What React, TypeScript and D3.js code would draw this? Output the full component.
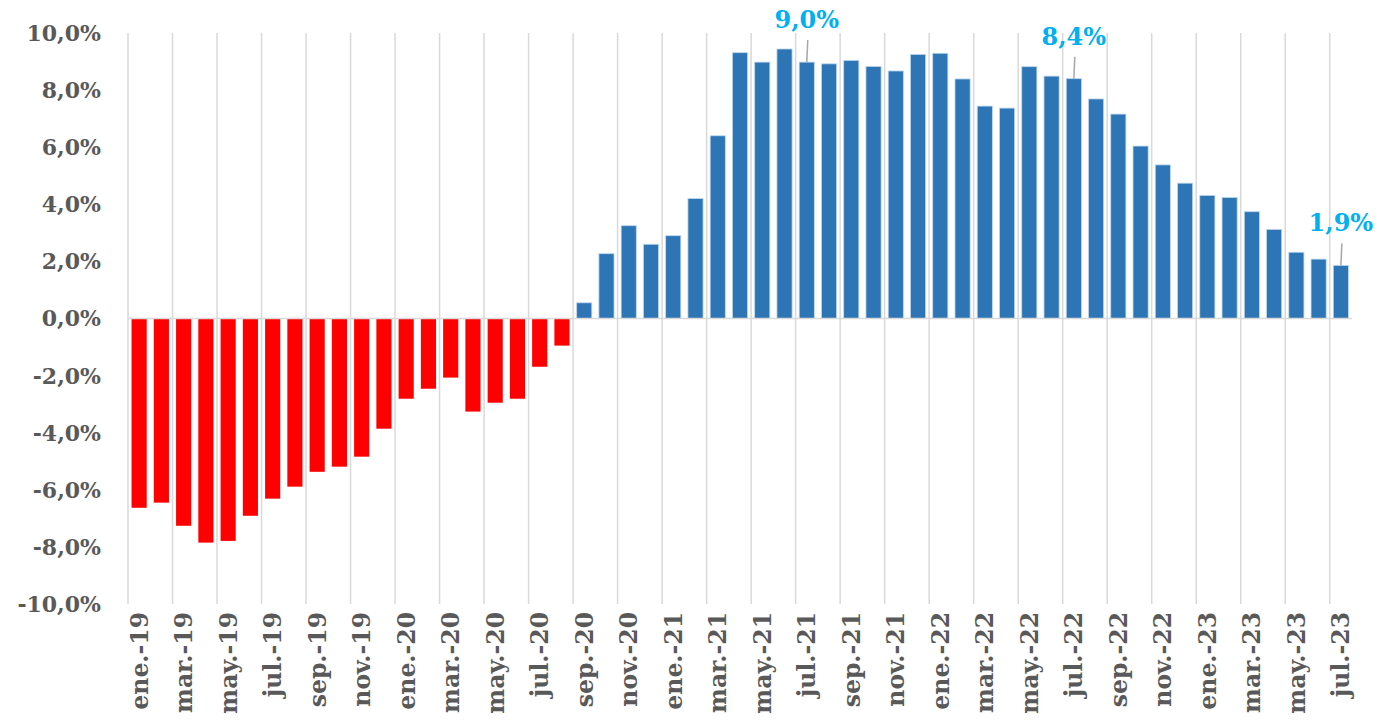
import React, { useEffect, useRef } from 'react';
import * as d3 from 'd3';

// monthly series, ene-19 .. jul-23
const months = ['ene.', 'feb.', 'mar.', 'abr.', 'may.', 'jun.', 'jul.', 'ago.', 'sep.', 'oct.', 'nov.', 'dic.'];
const years = ['19', '20', '21', '22', '23'];
const categories: string[] = [];
years.forEach((yy) => months.forEach((m) => categories.push(`${m}-${yy}`)));
categories.splice(55);

const values2019 = [-6.63, -6.45, -7.26, -7.85, -7.79, -6.91, -6.31, -5.89, -5.37, -5.19, -4.84, -3.86];
const values2020 = [-2.81, -2.46, -2.07, -3.26, -2.95, -2.81, -1.69, -0.95, 0.55, 2.27, 3.25, 2.6];
const values2021 = [2.9, 4.2, 6.4, 9.31, 8.98, 9.44, 8.98, 8.92, 9.04, 8.83, 8.67, 9.25];
const values2022 = [9.29, 8.39, 7.44, 7.37, 8.82, 8.49, 8.4, 7.69, 7.16, 6.04, 5.38, 4.74];
const values2023 = [4.31, 4.24, 3.74, 3.12, 2.32, 2.08, 1.86];
const values = [...values2019, ...values2020, ...values2021, ...values2022, ...values2023];

// highlighted data labels
const labelIdx = [30, 42, 54];
const labelText = ['9,0%', '8,4%', '1,9%'];

const yTicks = [-10, -8, -6, -4, -2, 0, 2, 4, 6, 8, 10];

export default function App() {
  const ref = useRef<SVGSVGElement>(null);

  useEffect(() => {
    const width = 1378;
    const height = 727;
    const left = 128;
    const right = 1352;
    const top = 33;
    const bottom = 604;
    const font = '"DejaVu Serif", serif';
    const grey = '#595959';

    const x = d3.scaleBand<number>().domain(d3.range(categories.length)).range([left, right]).paddingInner(0.32).paddingOuter(0.16);
    const y = d3.scaleLinear().domain([-10, 10]).range([bottom, top]);
    const step = x.step();

    const svg = d3.select(ref.current).attr('viewBox', [0, 0, width, height]).attr('width', width).attr('height', height);
    svg.selectAll('*').remove();

    // vertical gridlines every two months
    svg
      .append('g')
      .selectAll('line')
      .data(d3.range(0, categories.length, 2))
      .join('line')
      .attr('x1', (i) => left + i * step)
      .attr('x2', (i) => left + i * step)
      .attr('y1', top)
      .attr('y2', bottom)
      .attr('stroke', '#D9D9D9')
      .attr('stroke-width', 1.5);

    // y tick labels
    svg
      .append('g')
      .selectAll('text')
      .data(yTicks)
      .join('text')
      .attr('x', 101)
      .attr('y', (d) => y(d))
      .attr('dy', '0.36em')
      .attr('text-anchor', 'end')
      .attr('font-family', font)
      .attr('font-weight', 'bold')
      .attr('font-size', 22)
      .attr('fill', grey)
      .text((d) => d.toFixed(1).replace('.', ',') + '%');

    // bars
    svg
      .append('g')
      .selectAll('rect')
      .data(values)
      .join('rect')
      .attr('x', (d, i) => x(i)!)
      .attr('width', x.bandwidth())
      .attr('y', (d) => y(Math.max(0, d)))
      .attr('height', (d) => Math.abs(y(d) - y(0)))
      .attr('fill', (d) => (d < 0 ? '#FF0000' : '#2E75B6'))
      .attr('stroke', (d) => (d < 0 ? 'none' : '#BDD7EE'))
      .attr('stroke-width', 0.8);

    // zero axis line
    svg
      .append('line')
      .attr('x1', left)
      .attr('x2', right)
      .attr('y1', y(0))
      .attr('y2', y(0))
      .attr('stroke', '#D9D9D9')
      .attr('stroke-width', 1.5);

    // x labels, rotated
    svg
      .append('g')
      .selectAll('text')
      .data(d3.range(0, categories.length, 2))
      .join('text')
      .attr('transform', (i) => `translate(${x(i)! + x.bandwidth() / 2},612) rotate(-90)`)
      .attr('dy', '0.36em')
      .attr('text-anchor', 'end')
      .attr('font-family', font)
      .attr('font-weight', 'bold')
      .attr('font-size', 23.5)
      .attr('fill', grey)
      .text((i) => categories[i]);

    // data labels with leader lines
    const lab = svg.append('g');
    labelIdx.forEach((i, k) => {
      const cx = x(i)! + x.bandwidth() / 2;
      const ty = y(values[i]);
      lab
        .append('line')
        .attr('x1', cx + 1)
        .attr('x2', cx)
        .attr('y1', ty - 22)
        .attr('y2', ty)
        .attr('stroke', '#A6A6A6')
        .attr('stroke-width', 1.5);
      lab
        .append('text')
        .attr('x', cx)
        .attr('y', ty - 34)
        .attr('text-anchor', 'middle')
        .attr('font-family', font)
        .attr('font-weight', 'bold')
        .attr('font-size', 24)
        .attr('fill', '#00B0F0')
        .text(labelText[k]);
    });
  }, []);

  return <svg ref={ref} style={{ position: 'absolute', left: 0, top: 0, background: '#fff' }}></svg>;
}
